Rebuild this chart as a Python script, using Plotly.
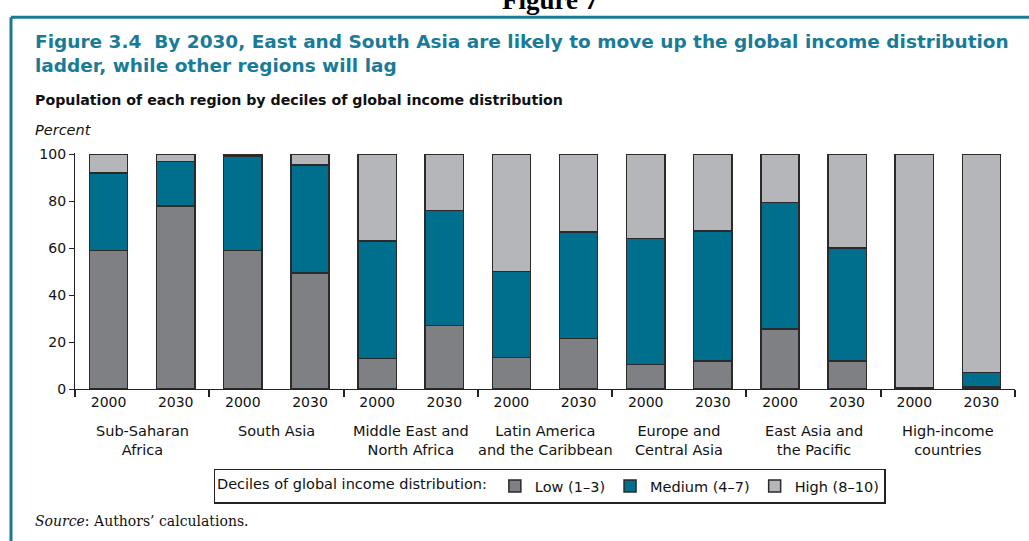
import plotly.graph_objects as go

W, H = 1029, 541

regions = [
    "Sub-Saharan<br>Africa",
    "South Asia",
    "Middle East and<br>North Africa",
    "Latin America<br>and the Caribbean",
    "Europe and<br>Central Asia",
    "East Asia and<br>the Pacific",
    "High-income<br>countries",
]
years = ["2000", "2030"]

# share of population (percent) in each income band, per region and year
low = [59, 78, 59, 49.5, 13, 27, 13.5, 21.5, 10.5, 12, 25.5, 12, 0.3, 0.8]
medium = [33, 19, 40.3, 46, 50, 49, 36.5, 45.5, 53.7, 55.4, 53.9, 48, 0.4, 6.3]
high = [8, 3, 0.7, 4.5, 37, 24, 50, 33, 35.8, 32.6, 20.6, 40, 99.3, 92.9]

series = [
    ("Low (1\u20133)", low, "#7f8084"),
    ("Medium (4\u20137)", medium, "#006f8e"),
    ("High (8\u201310)", high, "#b5b6ba"),
]

# plot area, in pixels
L, R, T, B = 75, 1015, 153, 389.3
YMAX = 100.6


def px(x):
    return (x - L) / (R - L)


def py(y):
    return (B - y) / (B - T)


SANS = "DejaVu Sans, Liberation Sans, Arial"
SERIF = "DejaVu Serif, Liberation Serif, Times New Roman"
TEAL = "#1a7b98"

n = len(regions) * len(years)
xpos = list(range(n))
year_labels = [years[i % 2] for i in xpos]

fig = go.Figure()
for name, vals, color in series:
    fig.add_trace(go.Bar(
        x=xpos, y=vals, name=name, width=0.57,
        marker=dict(color=color, line=dict(color="#2a2a2a", width=1.5)),
    ))

annotations = []
for i, r in enumerate(regions):
    annotations.append(dict(
        x=2 * i + 0.5, xref="x", y=py(421), yref="paper", yanchor="top",
        text=r, showarrow=False, font=dict(family=SANS, size=14.5, color="#111"),
    ))

annotations += [
    # page title, cut off at the top edge as in the scan
    dict(x=px(550), y=py(17), xref="paper", yref="paper", xanchor="center", yanchor="bottom",
         text="<b>Figure 7</b>", showarrow=False,
         font=dict(family="Liberation Serif, Times New Roman", size=27, color="#000")),
    dict(x=px(33), y=py(29), xref="paper", yref="paper", xanchor="left", yanchor="top", align="left",
         text="<b>Figure 3.4  By 2030, East and South Asia are likely to move up the global income distribution"
              "<br>ladder, while other regions will lag</b>",
         showarrow=False, font=dict(family=SANS, size=18.5, color=TEAL)),
    dict(x=px(33), y=py(100), xref="paper", yref="paper", xanchor="left", yanchor="middle",
         text="<b>Population of each region by deciles of global income distribution</b>",
         showarrow=False, font=dict(family=SANS, size=14.2, color="#111")),
    dict(x=px(33), y=py(130), xref="paper", yref="paper", xanchor="left", yanchor="middle",
         text="<i>Percent</i>", showarrow=False, font=dict(family=SANS, size=14.5, color="#111")),
    dict(x=px(33), y=py(521), xref="paper", yref="paper", xanchor="left", yanchor="middle",
         text="<i>Source</i>: Authors\u2019 calculations.", showarrow=False,
         font=dict(family=SERIF, size=14, color="#111")),
]

shapes = [
    dict(type="line", xref="paper", yref="paper", x0=px(11), x1=px(1040), y0=py(17), y1=py(17),
         line=dict(color=TEAL, width=3)),
    dict(type="line", xref="paper", yref="paper", x0=px(11), x1=px(11), y0=py(17), y1=py(560),
         line=dict(color=TEAL, width=3)),
]

fig.update_layout(
    width=W, height=H,
    margin=dict(l=L, r=W - R, t=T, b=H - B, autoexpand=False),
    barmode="stack", bargap=0.4,
    plot_bgcolor="white", paper_bgcolor="white",
    font=dict(family=SANS, size=14, color="#111"),
    showlegend=True,
    legend=dict(
        orientation="h", x=px(549.5), xanchor="center", y=py(469), yanchor="top",
        bordercolor="#222", borderwidth=1.5, bgcolor="white",
        title=dict(text="Deciles of global income distribution:", side="left",
                   font=dict(family=SANS, size=14.5)),
        font=dict(family=SANS, size=14.5), itemwidth=30, traceorder="normal",
    ),
    annotations=annotations,
    shapes=shapes,
)
fig.update_xaxes(
    range=[-0.5, n - 0.5], showgrid=False, zeroline=False,
    showline=True, linecolor="#222", linewidth=1.2,
    tickmode="array", tickvals=xpos, ticktext=year_labels, ticks="",
    tickfont=dict(family=SANS, size=14),
    minor=dict(tickmode="array", tickvals=[k - 0.5 for k in range(0, n + 1, 2)],
               ticks="outside", ticklen=7, tickcolor="#222", tickwidth=1.5),
)
fig.update_yaxes(
    range=[0, YMAX], showgrid=False, zeroline=False,
    showline=True, linecolor="#222", linewidth=1.2,
    tickmode="array", tickvals=[0, 20, 40, 60, 80, 100],
    ticks="outside", ticklen=5, tickcolor="#222",
    tickfont=dict(family=SANS, size=14),
)

# drop the default 8px body margin so the figure sits in the window corner
fig.write_html("out.html", config={"displayModeBar": False},
               post_script="document.body.style.margin='0px';")
